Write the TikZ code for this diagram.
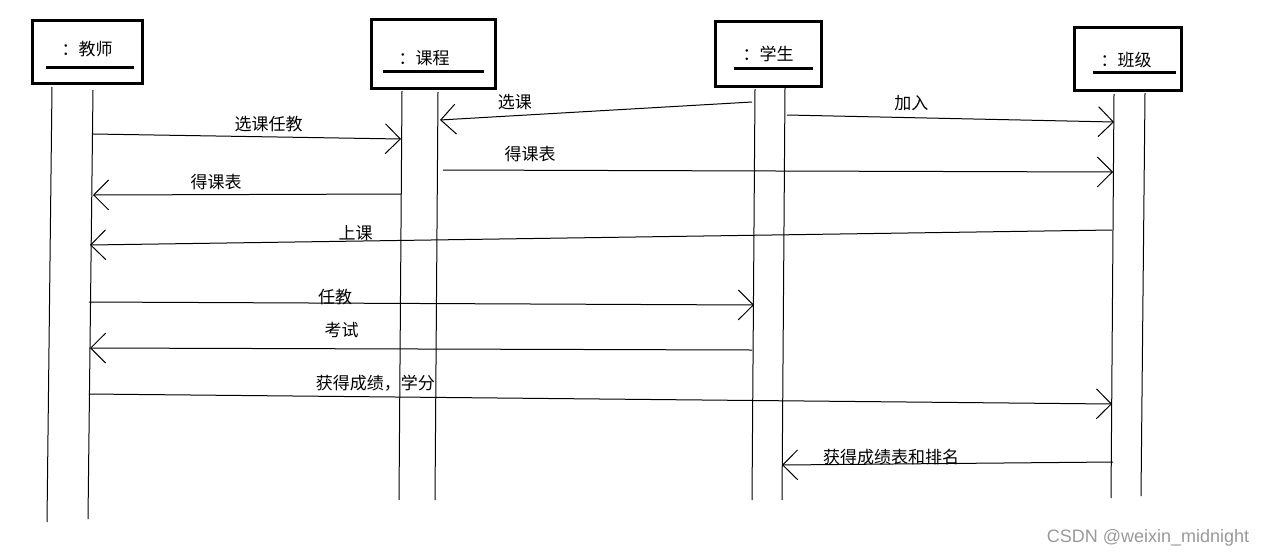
\documentclass[tikz,border=0pt]{standalone}
\usepackage{fontspec}
\setmainfont{Liberation Sans}
\newfontfamily\cjk{Noto Sans CJK SC}
\usetikzlibrary{arrows.meta}

\begin{document}
\begin{tikzpicture}[
    x=1pt, y=-1pt,
    % --- STYLES ---
    obj/.style={
        rectangle, draw=black, line width=3pt,
        fill=white, inner sep=0pt
    },
    objname/.style={font=\cjk\fontsize{17}{20}\selectfont, inner sep=0pt},
    uline/.style={line width=3pt},
    life/.style={line width=1pt},
    msg/.style={-{Straight Barb[length=15pt,width=30pt]}, line width=1pt},
    msglabel/.style={font=\cjk\fontsize{17}{20}\selectfont, inner sep=0pt},
    wmark/.style={text=gray!80, font=\fontsize{18}{20}\selectfont, inner sep=0pt}
]
\useasboundingbox (0,0) rectangle (1269,558);

% ===== 1. OBJECTS =====
\node[obj, minimum width=110pt, minimum height=63pt] (teacher) at (87.5,52) {};
\node[obj, minimum width=124pt, minimum height=69pt] (course) at (433.5,54) {};
\node[obj, minimum width=106pt, minimum height=65pt] (student) at (768.5,54) {};
\node[obj, minimum width=107pt, minimum height=63pt] (klass) at (1128,59) {};

\node[objname] (teacher-name) at (87,49) {：教师};
\node[objname] (course-name) at (424,58) {：课程};
\node[objname] (student-name) at (768,54) {：学生};
\node[objname] (klass-name) at (1126,60) {：班级};

\draw[uline] (46,67) -- (134,67);
\draw[uline] (383,71) -- (484,71);
\draw[uline] (734,68) -- (813,68);
\draw[uline] (1093,72) -- (1176,72);

% ===== 2. LIFELINES =====
\draw[life] (52,87) -- (47,522);
\draw[life] (93,90) -- (88,519);
\draw[life] (402,91) -- (399,500);
\draw[life] (438,92) -- (435,500);
\draw[life] (755,89) -- (752,500);
\draw[life] (785,88) -- (782,500);
\draw[life] (1114,94) -- (1111,498);
\draw[life] (1145,93) -- (1141,496);

% ===== 3. MESSAGES =====
\coordinate (m1a) at (93,134);   \coordinate (m1b) at (401,139);
\coordinate (m2a) at (752,102);  \coordinate (m2b) at (440,120);
\coordinate (m3a) at (787,115);  \coordinate (m3b) at (1114,122);
\coordinate (m4a) at (443,170);  \coordinate (m4b) at (1113,172);
\coordinate (m5a) at (401,194);  \coordinate (m5b) at (93,195);
\coordinate (m6a) at (1112,230); \coordinate (m6b) at (90,245);
\coordinate (m7a) at (89,302);   \coordinate (m7b) at (754,305);
\coordinate (m8a) at (752,350);  \coordinate (m8b) at (90,348);
\coordinate (m9a) at (89,394);   \coordinate (m9b) at (1112,404);
\coordinate (m10a) at (1113,462); \coordinate (m10b) at (782,465);

\draw[msg] (m1a) -- node[msglabel, pos=.57, above=4pt] (l1) {选课任教} (m1b);
\draw[msg] (m2a) -- node[msglabel, pos=.76, above=5pt] (l2) {选课} (m2b);
\draw[msg] (m3a) -- node[msglabel, pos=.38, above=6pt] (l3) {加入} (m3b);
\draw[msg] (m4a) -- node[msglabel, pos=.13, above=8pt] (l4) {得课表} (m4b);
\draw[msg] (m5a) -- node[msglabel, pos=.60, above=4pt] (l5) {得课表} (m5b);
\draw[msg] (m6a) -- node[msglabel, pos=.74, above=0pt] (l6) {上课} (m6b);
\draw[msg] (m7a) -- node[msglabel, pos=.37, above=-2pt] (l7) {任教} (m7b);
\draw[msg] (m8a) -- node[msglabel, pos=.62, above=10pt] (l8) {考试} (m8b);
\draw[msg] (m9a) -- node[msglabel, pos=.28, above=5pt] (l9) {获得成绩，学分} (m9b);
\draw[msg] (m10a) -- node[msglabel, pos=.67, above=-1pt] (l10) {获得成绩表和排名} (m10b);

\node[wmark] (csdn) at (1148,538) {CSDN @weixin\_midnight};

\end{tikzpicture}
\end{document}
